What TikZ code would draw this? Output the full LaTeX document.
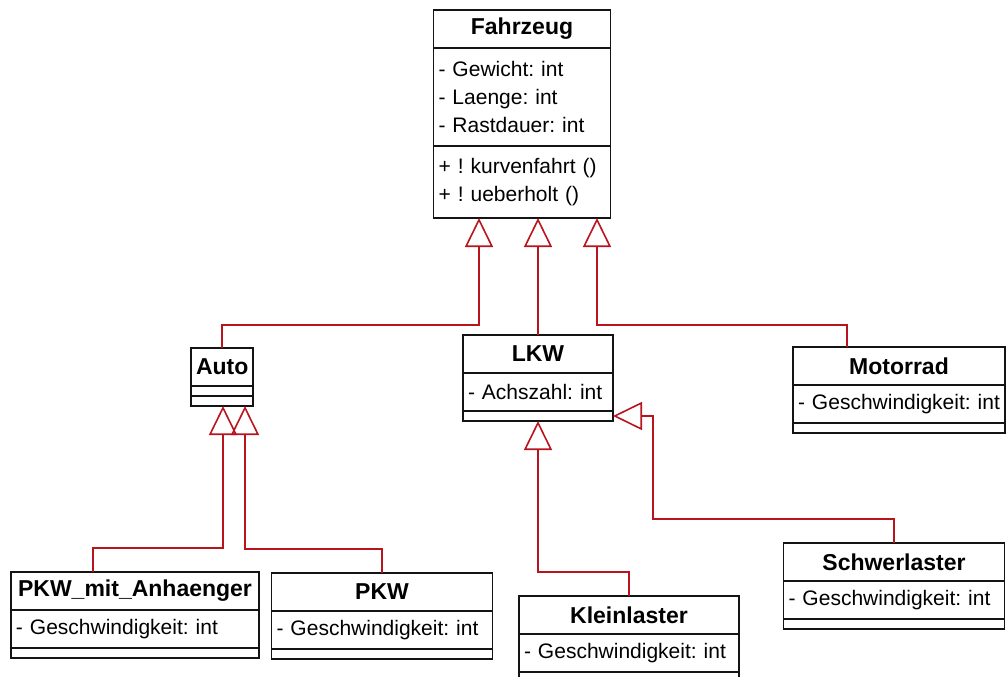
\documentclass[tikz,border=0pt]{standalone}
\usepackage{fontspec}
\setmainfont{Liberation Sans}
\usetikzlibrary{arrows.meta, positioning, calc}
\definecolor{umlred}{RGB}{185,20,30}
\definecolor{umlline}{RGB}{20,20,20}
\tikzset{
  ctitle/.style={rectangle, draw=umlline, fill=white, line width=1.5pt, outer sep=0pt,
    text width=#1, align=center, inner xsep=5pt, inner ysep=0pt, minimum height=38pt,
    font=\fontsize{23}{28}\selectfont\bfseries, anchor=north},
  cattr/.style={rectangle, draw=umlline, fill=white, line width=1.5pt, outer sep=0pt,
    text width=#1, align=left, inner xsep=5pt, inner ysep=0pt, minimum height=38pt,
    font=\fontsize{21}{28}\selectfont},
  cempty/.style={rectangle, draw=umlline, fill=white, line width=1.5pt, outer sep=0pt,
    text width=#1, inner xsep=5pt, inner ysep=0pt, minimum height=10pt,
    text height=0pt, text depth=0pt},
  isa/.style={draw=umlred, line width=1.6pt, -{Triangle[open, length=29pt, width=28pt]}}
}

\begin{document}
\frenchspacing
\begin{tikzpicture}[x=1pt, y=-1pt]
  \useasboundingbox (0,0) rectangle (1007,677);

  \node[ctitle=167pt] (fahrzeug) at (522,10) {Fahrzeug};
  \node[cattr=167pt, minimum height=98pt, below=0pt of fahrzeug] (fahrzeug-a)
    {- Gewicht: int\\ - Laenge: int\\ - Rastdauer: int};
  \node[cattr=167pt, minimum height=72pt, below=0pt of fahrzeug-a] (fahrzeug-m)
    {+ ! kurvenfahrt ()\\ + ! ueberholt ()};

  \node[ctitle=52pt] (auto) at (222,348) {Auto};
  \node[cempty=52pt, below=0pt of auto] (auto-a) {};
  \node[cempty=52pt, below=0pt of auto-a] (auto-m) {};

  \node[ctitle=140pt] (lkw) at (538,335) {LKW};
  \node[cattr=140pt, below=0pt of lkw] (lkw-a) {- Achszahl: int};
  \node[cempty=140pt, below=0pt of lkw-a] (lkw-m) {};

  \node[ctitle=202pt] (motorrad) at (899,347) {Motorrad};
  \node[cattr=202pt, below=0pt of motorrad] (motorrad-a) {- Geschwindigkeit: int};
  \node[cempty=202pt, below=0pt of motorrad-a] (motorrad-m) {};

  \node[ctitle=238pt] (pkwa) at (135,572) {PKW\_mit\_Anhaenger};
  \node[cattr=238pt, below=0pt of pkwa] (pkwa-a) {- Geschwindigkeit: int};
  \node[cempty=238pt, below=0pt of pkwa-a] (pkwa-m) {};

  \node[ctitle=211pt] (pkw) at (382,573) {PKW};
  \node[cattr=211pt, below=0pt of pkw] (pkw-a) {- Geschwindigkeit: int};
  \node[cempty=211pt, below=0pt of pkw-a] (pkw-m) {};

  \node[ctitle=210pt] (klein) at (629,596) {Kleinlaster};
  \node[cattr=210pt, below=0pt of klein] (klein-a) {- Geschwindigkeit: int};
  \node[cempty=210pt, below=0pt of klein-a] (klein-m) {};

  \node[ctitle=211pt] (schwer) at (894,543) {Schwerlaster};
  \node[cattr=211pt, below=0pt of schwer] (schwer-a) {- Geschwindigkeit: int};
  \node[cempty=211pt, below=0pt of schwer-a] (schwer-m) {};

  \draw[isa] (auto.north) -- ++(0,-23) -| ($(fahrzeug-m.south)+(-43,0)$);
  \draw[isa] (lkw.north) -- (lkw.north |- fahrzeug-m.south);
  \draw[isa] ($(motorrad.north)+(-52,0)$) -- ++(0,-22) -| ($(fahrzeug-m.south)+(75,0)$);
  \draw[isa] ($(pkwa.north)+(-42,0)$) -- ++(0,-24) -| ($(auto-m.south)+(1,0)$);
  \draw[isa] (pkw.north) -- ++(0,-24) -| ($(auto-m.south)+(23,0)$);
  \draw[isa] (klein.north) -- ++(0,-24) -| (lkw-m.south);
  \draw[isa] (schwer.north) -- ++(0,-24) -| ($(lkw-m.east)+(40,0)$) -- (lkw-m.east);
\end{tikzpicture}
\end{document}
